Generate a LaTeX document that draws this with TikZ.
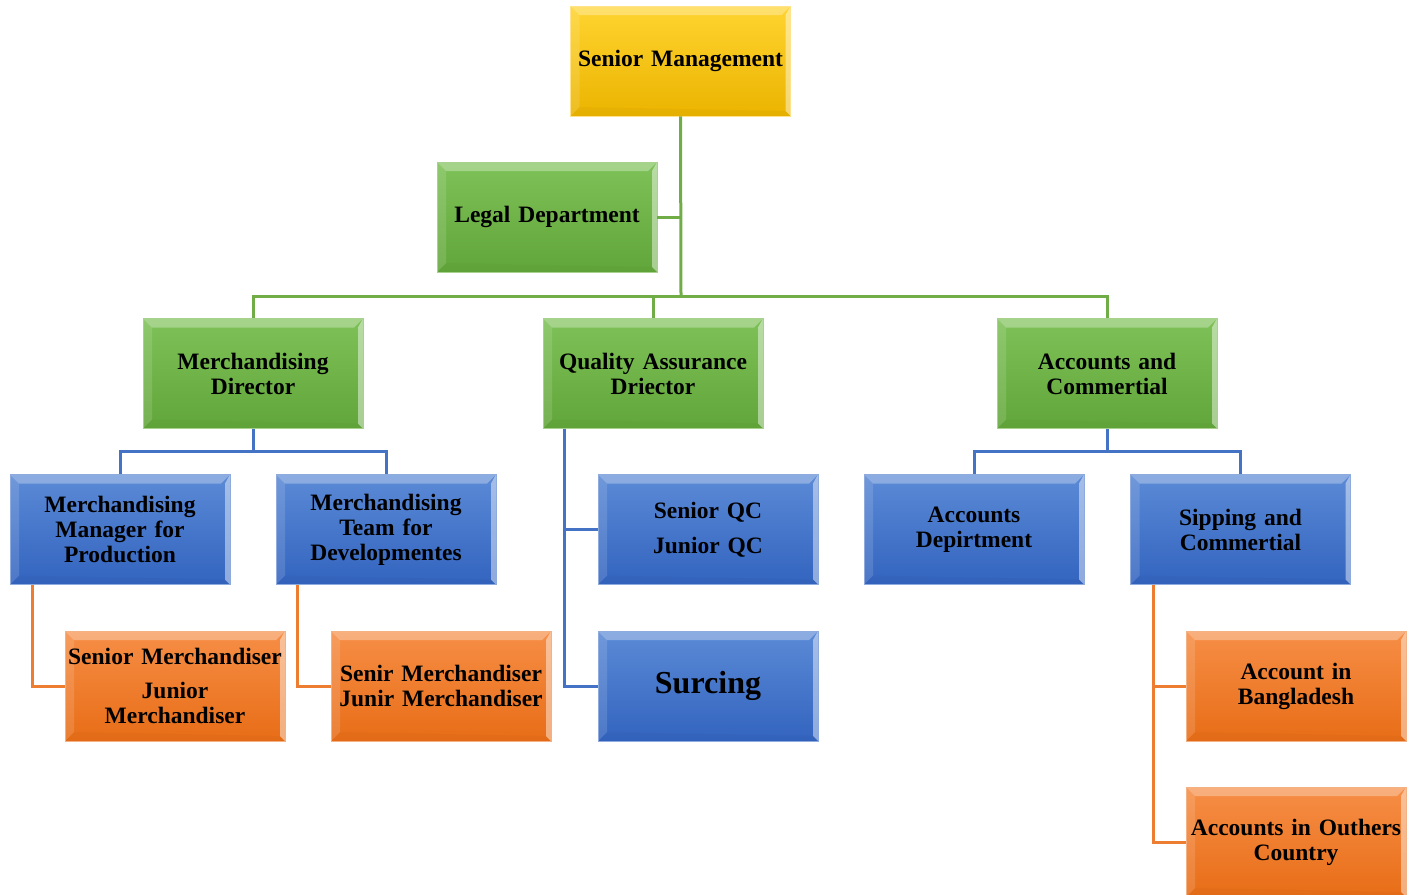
\documentclass[tikz,border=0pt]{standalone}
\usepackage{fontspec}
\setmainfont{Liberation Serif}
\definecolor{cYt}{HTML}{FFD430}
\definecolor{cYb}{HTML}{EBB400}
\definecolor{cYd}{HTML}{FFE28A}
\definecolor{cGt}{HTML}{7EC158}
\definecolor{cGb}{HTML}{61A63A}
\definecolor{cGd}{HTML}{A9D18E}
\definecolor{cBt}{HTML}{5B8AD6}
\definecolor{cBb}{HTML}{3364BF}
\definecolor{cBd}{HTML}{8FAADC}
\definecolor{cOt}{HTML}{F68E46}
\definecolor{cOb}{HTML}{E86D17}
\definecolor{cOd}{HTML}{F4B183}
\definecolor{lG}{HTML}{70AD47}
\definecolor{lB}{HTML}{4472C4}
\definecolor{lO}{HTML}{ED7D31}
\newcommand\bevfill{%
 \fill[white,opacity=.3] (path picture bounding box.north west) -- (path picture bounding box.north east) -- ([xshift=-9pt,yshift=-9pt]path picture bounding box.north east) -- ([xshift=9pt,yshift=-9pt]path picture bounding box.north west) -- cycle;
 \fill[white,opacity=.13] (path picture bounding box.north west) -- ([xshift=9pt,yshift=-9pt]path picture bounding box.north west) -- ([xshift=9pt,yshift=9pt]path picture bounding box.south west) -- (path picture bounding box.south west) -- cycle;
 \fill[white,opacity=.45] (path picture bounding box.north east) -- ([xshift=-5pt,yshift=-9pt]path picture bounding box.north east) -- ([xshift=-5pt,yshift=5pt]path picture bounding box.south east) -- (path picture bounding box.south east) -- cycle;
 \fill[black,opacity=.025] (path picture bounding box.south west) -- ([xshift=9pt,yshift=9pt]path picture bounding box.south west) -- ([xshift=-5pt,yshift=5pt]path picture bounding box.south east) -- (path picture bounding box.south east) -- cycle;
}
\tikzset{
  nb/.style={rectangle, minimum width=220pt, minimum height=110pt, inner sep=0pt,
    align=center, text width=218pt, line width=0.9pt,
    font=\fontsize{23.5pt}{25pt}\selectfont\bfseries, path picture={\bevfill}},
  ybox/.style={nb, draw=cYd, top color=cYt, bottom color=cYb},
  gbox/.style={nb, draw=cGd, top color=cGt, bottom color=cGb},
  bbox/.style={nb, draw=cBd, top color=cBt, bottom color=cBb},
  obox/.style={nb, draw=cOd, top color=cOt, bottom color=cOb},
  gline/.style={draw=lG, line width=3pt},
  bline/.style={draw=lB, line width=3pt},
  oline/.style={draw=lO, line width=3pt},
}
\begin{document}
\begin{tikzpicture}[x=1pt,y=-1pt]
\useasboundingbox (0,0) rectangle (1413,894);
\coordinate (bus) at (681,296);
\node[ybox] (sm) at (680.5,61) {Senior Management};
\node[gbox] (lg) at (547,217) {Legal Department};
\node[gbox] (md) at (253,373.5) {Merchandising\\Director};
\node[gbox] (qa) at (653,373.5) {Quality Assurance\\Driector};
\node[gbox] (ac) at (1107,373.5) {Accounts and\\Commertial};
\node[bbox] (mm) at (120,529.5) {Merchandising\\Manager for\\Production};
\node[bbox] (mt) at (386,529.5) {Merchandising\\Team for\\Developmentes};
\node[bbox] (qc) at (708,529.5) {Senior QC\\[10pt]Junior QC};
\node[bbox] (ad) at (974,529.5) {Accounts\\Depirtment};
\node[bbox] (sc) at (1240.5,529.5) {Sipping and\\Commertial};
\node[obox] (s1) at (175,686) {Senior Merchandiser\\[9pt]Junior\\Merchandiser};
\node[obox] (s2) at (441,686) {Senir Merchandiser\\Junir Merchandiser};
\node[bbox, font=\fontsize{32pt}{34pt}\selectfont\bfseries] (su) at (708,686) {Surcing};
\node[obox] (ab) at (1296,686) {Account in\\Bangladesh};
\node[obox] (ao) at (1296,842) {Accounts in Outhers\\Country};
\draw[gline] (sm.south) -- (bus);
\draw[gline] (lg.east) -- (lg.east -| sm.south);
\draw[gline] (bus) -| (md.north);
\draw[gline] (bus) -| (qa.north);
\draw[gline] (bus) -| (ac.north);
\draw[bline] (md.south) -- ++(0,23) -| (mm.north);
\draw[bline] (md.south) -- ++(0,23) -| (mt.north);
\draw[bline] (ac.south) -- ++(0,23) -| (ad.north);
\draw[bline] (ac.south) -- ++(0,23) -| (sc.north);
\draw[bline] (qa.south west) ++(22,0) |- (qc.west);
\draw[bline] (qa.south west) ++(22,0) |- (su.west);
\draw[oline] (mm.south west) ++(23,0) |- (s1.west);
\draw[oline] (mt.south west) ++(22,0) |- (s2.west);
\draw[oline] (sc.south west) ++(23,0) |- (ab.west);
\draw[oline] (sc.south west) ++(23,0) |- (ao.west);
\end{tikzpicture}
\end{document}
